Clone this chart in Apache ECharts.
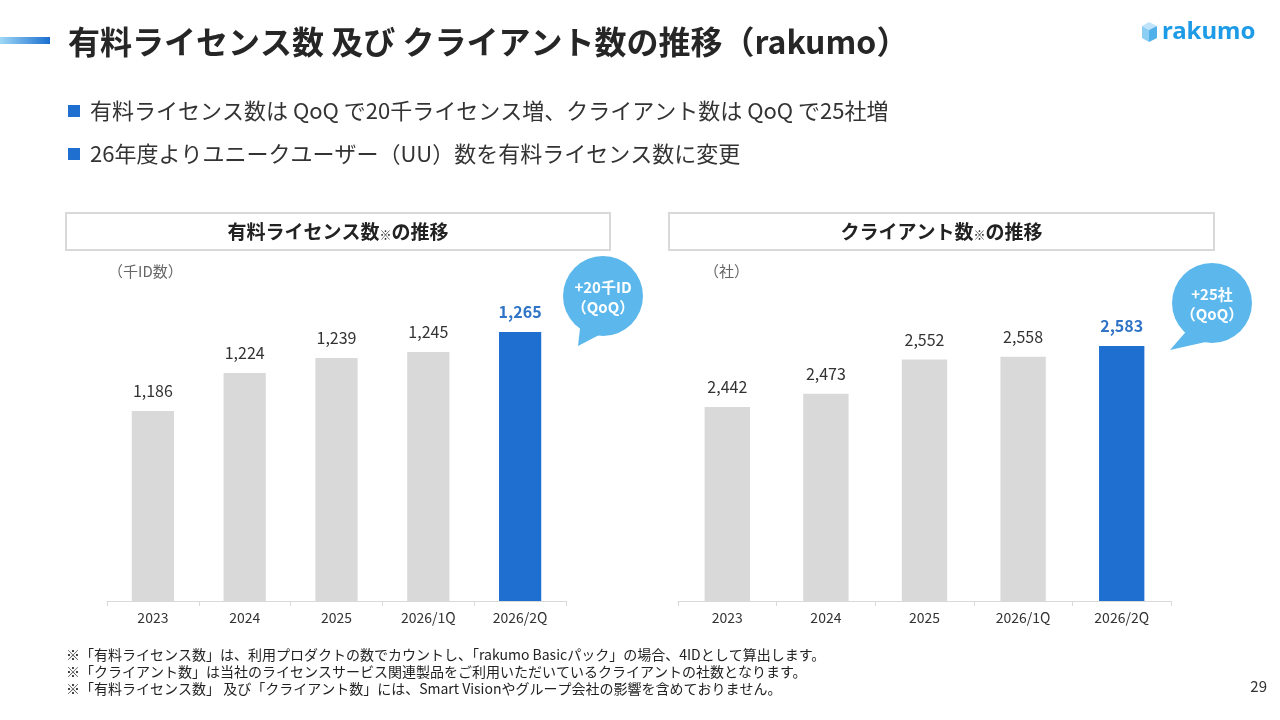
<!DOCTYPE html>
<html style="height: 100%">
<head>
    <meta charset="utf-8">
</head>
<body style="height: 100%; margin: 0; background: #fff">
    <div id="container" style="width: 1280px; height: 720px"></div>
    <script type="text/javascript" src="https://cdn.jsdelivr.net/npm/echarts@6/dist/echarts.min.js"></script>
    <script type="text/javascript">
var dom = document.getElementById("container");
var myChart = echarts.init(dom);
var FONT = '"Noto Sans CJK JP", "Noto Sans", sans-serif';

// data
var categories = ['2023', '2024', '2025', '2026/1Q', '2026/2Q'];
var licenseValues = [1186, 1224, 1239, 1245, 1265];
var clientValues = [2442, 2473, 2552, 2558, 2583];

var GRAY = '#d9d9d9';
var BLUE = '#1f6fd1';
var BUBBLE = '#5cb8ec';

var buildData = function (values) {
    return values.map(function (v, i) {
        if (i === values.length - 1) {
            return {
                value: v,
                itemStyle: { color: BLUE },
                label: { color: '#2f74c6', fontWeight: 'bold' }
            };
        }
        return v;
    });
};

var xAxisBase = function (idx) {
    return {
        type: 'category',
        gridIndex: idx,
        data: categories,
        axisLine: { lineStyle: { color: GRAY, width: 1 } },
        axisTick: { show: true, length: 5, lineStyle: { color: GRAY } },
        axisLabel: { color: '#333', fontSize: 14, margin: 10, fontFamily: FONT }
    };
};
var yAxisBase = function (idx, min, max) {
    return {
        type: 'value',
        gridIndex: idx,
        min: min,
        max: max,
        show: false
    };
};
var barSeries = function (idx, values) {
    return {
        type: 'bar',
        xAxisIndex: idx,
        yAxisIndex: idx,
        barWidth: '46%',
        data: buildData(values),
        itemStyle: { color: GRAY },
        label: {
            show: true,
            position: 'top',
            distance: 12,
            fontSize: 16,
            color: '#333',
            fontFamily: FONT,
            formatter: function (p) { return p.value.toLocaleString('en-US'); }
        }
    };
};

// bubble: circle + tail
var bubble = function (cx, cy, r, tipX, tipY, line1, line2) {
    return {
        type: 'group',
        children: [
            {
                type: 'polygon',
                shape: { points: [[cx - r * 0.55, cy + r * 0.6], [cx - r * 0.05, cy + r * 0.95], [tipX, tipY]] },
                style: { fill: BUBBLE }
            },
            { type: 'circle', shape: { cx: cx, cy: cy, r: r }, style: { fill: BUBBLE } },
            {
                type: 'text', x: cx, y: cy - 9,
                style: { text: line1, fill: '#fff', font: 'bold 15px ' + FONT, align: 'center', verticalAlign: 'middle' }
            },
            {
                type: 'text', x: cx, y: cy + 11,
                style: { text: line2, fill: '#fff', font: 'bold 15px ' + FONT, align: 'center', verticalAlign: 'middle' }
            }
        ]
    };
};

var sectionBox = function (x, w, head, tail) {
    return {
        type: 'group',
        children: [
            { type: 'rect', shape: { x: x, y: 213, width: w, height: 37 }, style: { fill: '#fff', stroke: '#d9d9d9', lineWidth: 2 } },
            {
                type: 'text', x: x + w / 2, y: 232,
                style: {
                    text: '{a|' + head + '}{s|※}{a|' + tail + '}',
                    align: 'center', verticalAlign: 'middle',
                    rich: {
                        a: { fill: '#222', font: 'bold 19px ' + FONT },
                        s: { fill: '#222', font: '12px ' + FONT, padding: [6, 0, 0, 0] }
                    }
                }
            }
        ]
    };
};

var option = {
    backgroundColor: '#fff',
    animation: false,
    grid: [
        { left: 107, right: 714, top: 301, bottom: 119 },
        { left: 678, right: 109, top: 301, bottom: 119 }
    ],
    xAxis: [xAxisBase(0), xAxisBase(1)],
    yAxis: [yAxisBase(0, 996, 1296), yAxisBase(1, 1994, 2687)],
    series: [barSeries(0, licenseValues), barSeries(1, clientValues)],
    graphic: [
        // header accent bar
        {
            type: 'rect', shape: { x: 0, y: 37, width: 50, height: 7 },
            style: { fill: new echarts.graphic.LinearGradient(0, 0, 1, 0, [
                { offset: 0, color: '#9fd8f6' }, { offset: 1, color: '#1b6fd0' }
            ]) }
        },
        {
            type: 'text', x: 68, y: 42,
            style: { text: '有料ライセンス数 及び クライアント数の推移（rakumo）', fill: '#262626', font: 'bold 32px ' + FONT, verticalAlign: 'middle' }
        },
        // logo
        { type: 'polygon', shape: { points: [[1142, 26], [1149, 22], [1157, 26], [1149, 30]] }, style: { fill: '#bfe3fa' } },
        { type: 'polygon', shape: { points: [[1142, 26], [1149, 30], [1149, 42], [1142, 38]] }, style: { fill: '#8ccdf4' } },
        { type: 'polygon', shape: { points: [[1149, 30], [1157, 26], [1157, 38], [1149, 42]] }, style: { fill: '#4fb0ea' } },
        {
            type: 'text', x: 1162, y: 32,
            style: { text: 'rakumo', fill: '#1e9be6', font: 'bold 24px "Noto Sans", sans-serif', verticalAlign: 'middle' }
        },
        // bullets
        { type: 'rect', shape: { x: 68, y: 105, width: 12, height: 12 }, style: { fill: BLUE } },
        {
            type: 'text', x: 90, y: 111,
            style: { text: '有料ライセンス数は QoQ で20千ライセンス増、クライアント数は QoQ で25社増', fill: '#333', font: '22px ' + FONT, verticalAlign: 'middle' }
        },
        { type: 'rect', shape: { x: 68, y: 148, width: 12, height: 12 }, style: { fill: BLUE } },
        {
            type: 'text', x: 90, y: 154,
            style: { text: '26年度よりユニークユーザー（UU）数を有料ライセンス数に変更', fill: '#333', font: '22px ' + FONT, verticalAlign: 'middle' }
        },
        // section boxes
        sectionBox(66, 544, '有料ライセンス数', 'の推移'),
        sectionBox(669, 545, 'クライアント数', 'の推移'),
        // unit labels
        { type: 'text', x: 108, y: 271, style: { text: '（千ID数）', fill: '#666', font: '15px ' + FONT, verticalAlign: 'middle' } },
        { type: 'text', x: 704, y: 271, style: { text: '（社）', fill: '#666', font: '15px ' + FONT, verticalAlign: 'middle' } },
        // callouts
        bubble(603, 296, 40, 578, 346, '+20千ID', '（QoQ）'),
        bubble(1212, 303, 40, 1170, 350, '+25社', '（QoQ）'),
        // footnotes
        { type: 'text', x: 66, y: 655, style: { text: '※「有料ライセンス数」は、利用プロダクトの数でカウントし、「rakumo Basicパック」の場合、4IDとして算出します。', fill: '#222', font: '14px ' + FONT, verticalAlign: 'middle' } },
        { type: 'text', x: 66, y: 672, style: { text: '※「クライアント数」は当社のライセンスサービス関連製品をご利用いただいているクライアントの社数となります。', fill: '#222', font: '14px ' + FONT, verticalAlign: 'middle' } },
        { type: 'text', x: 66, y: 689, style: { text: '※「有料ライセンス数」 及び「クライアント数」には、Smart Visionやグループ会社の影響を含めておりません。', fill: '#222', font: '14px ' + FONT, verticalAlign: 'middle' } },
        { type: 'text', x: 1267, y: 686, style: { text: '29', fill: '#333', font: '15px ' + FONT, align: 'right', verticalAlign: 'middle' } }
    ]
};
myChart.setOption(option, true);
</script>
</body>
</html>
